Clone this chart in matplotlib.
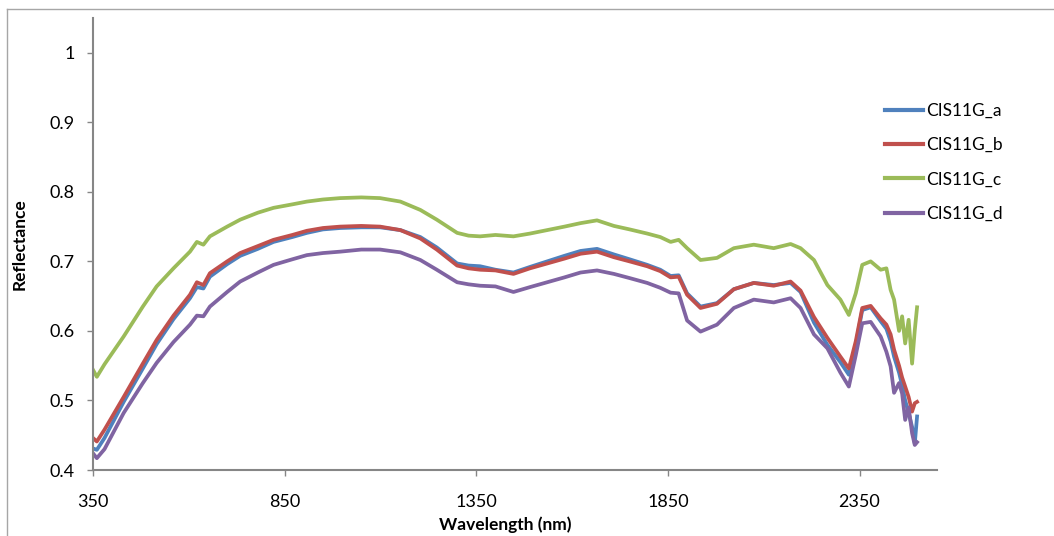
import matplotlib
matplotlib.use("Agg")
import matplotlib.pyplot as plt
from matplotlib.lines import Line2D

plt.rcParams['font.family'] = ['Lato', 'DejaVu Sans']

# spectra (nm, reflectance)
wavelength = [350, 360, 380, 430, 480, 516, 560, 603, 621, 638, 655, 700, 734,
              780, 821, 870, 908, 950, 995, 1050, 1099, 1152, 1204, 1247, 1300,
              1330, 1360, 1400, 1447, 1490, 1535, 1580, 1622, 1665, 1709, 1750,
              1796, 1830, 1857, 1878, 1900, 1935, 1978, 2022, 2074, 2126, 2170,
              2196, 2231, 2266, 2300, 2322, 2340, 2357, 2379, 2405, 2420, 2431,
              2440, 2453, 2461, 2469, 2478, 2487, 2494, 2500]

cis11g_a = [0.431, 0.429, 0.446, 0.498, 0.546, 0.581, 0.617, 0.647, 0.663, 0.661,
            0.678, 0.696, 0.708, 0.718, 0.728, 0.735, 0.741, 0.746, 0.748, 0.749,
            0.749, 0.745, 0.735, 0.720, 0.697, 0.694, 0.693, 0.688, 0.684, 0.692,
            0.700, 0.708, 0.715, 0.718, 0.710, 0.703, 0.695, 0.688, 0.679, 0.680,
            0.654, 0.635, 0.640, 0.660, 0.669, 0.666, 0.669, 0.656, 0.612, 0.580,
            0.555, 0.537, 0.580, 0.630, 0.634, 0.614, 0.603, 0.585, 0.563, 0.540,
            0.522, 0.500, 0.482, 0.462, 0.438, 0.477]

cis11g_b = [0.446, 0.441, 0.458, 0.505, 0.553, 0.587, 0.622, 0.652, 0.670, 0.666,
            0.683, 0.700, 0.712, 0.722, 0.731, 0.738, 0.744, 0.748, 0.750, 0.751,
            0.750, 0.745, 0.733, 0.717, 0.694, 0.690, 0.688, 0.687, 0.682, 0.690,
            0.697, 0.704, 0.711, 0.714, 0.706, 0.700, 0.693, 0.686, 0.677, 0.678,
            0.652, 0.633, 0.639, 0.660, 0.669, 0.665, 0.671, 0.658, 0.620, 0.590,
            0.563, 0.546, 0.585, 0.633, 0.636, 0.618, 0.609, 0.595, 0.573, 0.550,
            0.533, 0.520, 0.505, 0.484, 0.496, 0.498]

cis11g_c = [0.544, 0.534, 0.552, 0.592, 0.635, 0.664, 0.690, 0.714, 0.728, 0.724,
            0.736, 0.750, 0.760, 0.770, 0.777, 0.782, 0.786, 0.789, 0.791, 0.792,
            0.791, 0.786, 0.774, 0.760, 0.741, 0.737, 0.736, 0.738, 0.736, 0.740,
            0.745, 0.750, 0.755, 0.759, 0.751, 0.746, 0.740, 0.735, 0.728, 0.731,
            0.719, 0.702, 0.705, 0.719, 0.724, 0.719, 0.725, 0.719, 0.702, 0.666,
            0.645, 0.623, 0.654, 0.695, 0.700, 0.688, 0.690, 0.659, 0.645, 0.600,
            0.621, 0.582, 0.616, 0.553, 0.601, 0.634]

cis11g_d = [0.424, 0.417, 0.430, 0.482, 0.525, 0.554, 0.584, 0.609, 0.622, 0.621,
            0.635, 0.656, 0.671, 0.684, 0.695, 0.703, 0.709, 0.712, 0.714, 0.717,
            0.717, 0.713, 0.702, 0.688, 0.670, 0.667, 0.665, 0.664, 0.656, 0.663,
            0.670, 0.677, 0.684, 0.687, 0.682, 0.676, 0.669, 0.662, 0.655, 0.654,
            0.615, 0.599, 0.609, 0.633, 0.645, 0.641, 0.647, 0.633, 0.595, 0.575,
            0.540, 0.520, 0.565, 0.611, 0.613, 0.592, 0.570, 0.549, 0.511, 0.525,
            0.510, 0.472, 0.490, 0.453, 0.436, 0.440]

labels = ['CIS11G_a', 'CIS11G_b', 'CIS11G_c', 'CIS11G_d']
colors = ['#4F81BD', '#C0504D', '#9BBB59', '#8064A2']
x_ticks = [350, 850, 1350, 1850, 2350]
y_ticks = [0.4, 0.5, 0.6, 0.7, 0.8, 0.9, 1.0]

fig = plt.figure(figsize=(10.54, 5.36), dpi=100)
ax = fig.add_axes([93 / 1054, 1 - 470 / 536, (937 - 93) / 1054, (470 - 18) / 536])

#%% lines
for ys, lab, col in zip([cis11g_a, cis11g_b, cis11g_c, cis11g_d], labels, colors):
    ax.plot(wavelength, ys, color=col, lw=2.7, label=lab, solid_joinstyle='round')

ax.set_xlim(350, 2552)
ax.set_ylim(0.4, 1.05)
ax.set_xticks(x_ticks)
ax.set_xticklabels([str(t) for t in x_ticks])
ax.set_yticks(y_ticks)
ax.set_yticklabels(['0.4', '0.5', '0.6', '0.7', '0.8', '0.9', '1'])

for s in ['top', 'right']:
    ax.spines[s].set_visible(False)
for s in ['left', 'bottom']:
    ax.spines[s].set_color('#868686')
    ax.spines[s].set_linewidth(1.5)
ax.tick_params(axis='both', direction='out', length=4, width=1, color='#868686',
               labelsize=13, labelcolor='black')
ax.tick_params(axis='x', pad=13)
ax.tick_params(axis='y', pad=9)

ax.set_xlabel('Wavelength (nm)', fontsize=12.5, fontweight='bold')
ax.xaxis.set_label_coords(0.488, -0.102)
ax.set_ylabel('Reflectance', fontsize=12.5, fontweight='bold')
ax.yaxis.set_label_coords(-0.077, 0.5)

handles = [Line2D([], [], color=c, lw=3) for c in colors]
leg = ax.legend(handles, labels, loc='upper left', bbox_to_anchor=(878 / 1054, 1 - 96 / 536),
                bbox_transform=fig.transFigure, frameon=False, fontsize=12.5,
                handlelength=2.2, handletextpad=0.2, labelspacing=1.05, borderaxespad=0)

# chart-area border (only left/top visible in the crop)
fig.add_artist(Line2D([7 / 1054, 7 / 1054], [0, 1 - 9 / 536], color='#A6A6A6', lw=1,
                      transform=fig.transFigure))
fig.add_artist(Line2D([7 / 1054, 1], [1 - 9 / 536, 1 - 9 / 536], color='#A6A6A6', lw=1,
                      transform=fig.transFigure))

fig.savefig('out.png', dpi=100)
